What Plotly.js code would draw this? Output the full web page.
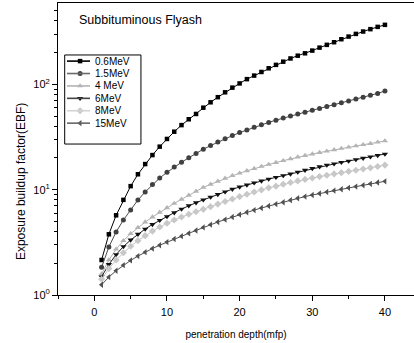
<!DOCTYPE html>
<html><head><meta charset="utf-8">
<script src="https://cdn.plot.ly/plotly-3.0.1.min.js"></script>
<style>html,body{margin:0;padding:0;background:#fff;overflow:hidden}</style>
</head><body><div id="chart" style="width:414px;height:343px"></div>
<script>
const depth = [1,2,3,4,5,6,7,8,9,10,11,12,13,14,15,16,17,18,19,20,21,22,23,24,25,26,27,28,29,30,31,32,33,34,35,36,37,38,39,40];

const seriesNames = ["0.6MeV", "1.5MeV", "4 MeV", "6MeV", "8MeV", "15MeV"];

const ebf06 = [2.15,3.77,5.71,8.0,10.8,14.0,17.5,21.3,25.6,30.3,35.5,41.0,46.6,52.3,60.0,67.5,75.5,84.0,93.0,102,112,121,131,142,153,164,176,187,197,209,223,237,251,268,284,301,317,334,351,367];
const ebf15 = [1.83,2.86,3.97,5.15,6.41,7.98,9.51,11.2,12.9,14.6,16.4,18.2,20.1,22.1,24.2,26.2,28.3,30.4,32.6,34.8,36.9,39.1,41.3,43.5,45.7,47.9,50.0,52.2,54.4,56.7,59.0,61.5,64.0,66.7,69.5,72.4,75.5,78.7,82.0,86.5];
const ebf4 = [1.58,2.15,2.72,3.28,3.82,4.37,4.92,5.5,6.1,6.72,7.4,8.1,8.85,9.65,10.5,11.25,12.0,12.8,13.6,14.35,15.1,15.85,16.6,17.35,18.1,18.85,19.6,20.4,21.1,21.8,22.5,23.2,23.9,24.6,25.3,26.0,26.7,27.4,28.2,29.0];
const ebf6 = [1.49,1.95,2.42,2.88,3.33,3.78,4.23,4.68,5.12,5.55,6.05,6.55,7.05,7.52,8.0,8.5,9.0,9.55,10.1,10.6,11.1,11.6,12.1,12.6,13.1,13.6,14.1,14.7,15.3,15.9,16.5,17.1,17.6,18.2,18.7,19.3,19.9,20.5,21.1,21.8];
const ebf8 = [1.41,1.78,2.15,2.52,2.9,3.28,3.66,4.04,4.42,4.8,5.15,5.5,5.84,6.17,6.5,6.9,7.3,7.72,8.15,8.6,9.05,9.5,9.95,10.4,10.8,11.25,11.7,12.1,12.5,12.9,13.3,13.7,14.1,14.5,14.9,15.3,15.7,16.1,16.6,17.1];
const ebf150 = [1.25,1.48,1.7,1.92,2.13,2.34,2.55,2.76,2.97,3.18,3.4,3.62,3.85,4.1,4.38,4.65,4.93,5.2,5.5,5.8,6.1,6.4,6.7,7.0,7.3,7.6,7.95,8.28,8.6,8.9,9.2,9.5,9.8,10.1,10.4,10.7,11.0,11.35,11.7,12.0];

const yTickVals = [1, 10, 100];
const yTickText = ["10<sup>0</sup>", "10<sup>1</sup>", "10<sup>2</sup>"];
const xTickVals = [0, 10, 20, 30, 40];

const allSeries = [ebf06, ebf15, ebf4, ebf6, ebf8, ebf150];
const lineColors = ["#000000", "#4a4a4a", "#b0b0b0", "#1e1e1e", "#c4c4c4", "#4e4e4e"];
const markerColors = ["#000000", "#404040", "#b4b4b4", "#111111", "#c8c8c8", "#505050"];
const legendLineColors = ["#000000", "#6a6a6a", "#b4b4b4", "#444444", "#d4d4d4", "#666666"];
const symbols = ["square", "circle", "triangle-up", "triangle-down", "diamond", "triangle-left"];
const markerSizes = [4.5, 5, 5.5, 5.5, 5.5, 5.5];

const FONT = 'Arial, "Liberation Sans", sans-serif';

const traces = allSeries.map((vals, i) => ({
  x: depth, y: vals, type: 'scatter', mode: 'lines+markers',
  name: seriesNames[i], showlegend: false,
  line: {color: lineColors[i], width: 1},
  marker: {symbol: symbols[i], size: markerSizes[i], color: markerColors[i], line: {width: 0}}
}));

// custom legend (layout positions in paper fractions)
const legX0 = 0.0188, legX1 = 0.233, legY0 = 0.517, legY1 = 0.822;
const itemTop = 0.801, itemStep = 0.0425;
const sampleX0 = 0.0253, sampleX1 = 0.0899, sampleMk = 0.062, textX = 0.098;

const shapes = [{type: 'rect', xref: 'paper', yref: 'paper', x0: legX0, x1: legX1, y0: legY0, y1: legY1,
  line: {color: '#000', width: 1}, fillcolor: 'rgba(0,0,0,0)'}];
const annotations = [];
seriesNames.forEach((n, i) => {
  const yy = itemTop - i * itemStep;
  shapes.push({type: 'line', xref: 'paper', yref: 'paper', x0: sampleX0, x1: sampleX1, y0: yy, y1: yy,
    line: {color: legendLineColors[i], width: 1.6}});
  annotations.push({xref: 'paper', yref: 'paper', x: textX, y: yy, xanchor: 'left', yanchor: 'middle',
    text: n, showarrow: false, font: {family: FONT, size: 10, color: '#000'}});
});
seriesNames.forEach((n, i) => {
  traces.push({x: [sampleMk], y: [itemTop - i * itemStep], xaxis: 'x2', yaxis: 'y2', type: 'scatter', mode: 'markers',
    showlegend: false, hoverinfo: 'skip', cliponaxis: false,
    marker: {symbol: symbols[i], size: markerSizes[i], color: markerColors[i], line: {width: 0}}});
});

annotations.push({xref: 'paper', yref: 'paper', x: 0.054, y: 0.943, xanchor: 'left', yanchor: 'middle',
  text: 'Subbituminous Flyash', showarrow: false, font: {family: FONT, size: 12.5, color: '#000'}});
annotations.push({xref: 'paper', yref: 'paper', x: -0.104, y: 0.39, xanchor: 'center', yanchor: 'middle', textangle: -90,
  text: 'Exposure buildup factor(EBF)', showarrow: false, font: {family: FONT, size: 12, color: '#000'}});

const layout = {
  width: 414, height: 343,
  margin: {l: 58, r: 0, t: 3, b: 48},
  paper_bgcolor: '#fff', plot_bgcolor: '#fff',
  font: {family: FONT, size: 11, color: '#000'},
  showlegend: false,
  xaxis: {
    range: [-5, 44], showgrid: false, zeroline: false,
    showline: true, linecolor: '#000', linewidth: 1, mirror: true,
    ticks: 'outside', ticklen: 5, tickwidth: 1, tickcolor: '#000',
    tickvals: xTickVals, tickfont: {family: FONT, size: 11}, ticklabelstandoff: 2,
    minor: {dtick: 5, ticks: 'outside', ticklen: 3, tickwidth: 1, tickcolor: '#000', showgrid: false},
    title: {text: 'penetration depth(mfp)', font: {family: FONT, size: 10}, standoff: 13}
  },
  yaxis: {
    type: 'log', range: [0, 2.772], showgrid: false, zeroline: false,
    showline: true, linecolor: '#000', linewidth: 1, mirror: false,
    ticks: 'outside', ticklen: 5, tickwidth: 1, tickcolor: '#000',
    tickvals: yTickVals, ticktext: yTickText, tickfont: {family: FONT, size: 11},
    minor: {dtick: 'D1', ticks: 'outside', ticklen: 3, tickwidth: 1, tickcolor: '#000', showgrid: false}
  },
  xaxis2: {overlaying: 'x', range: [0, 1], visible: false, fixedrange: true},
  yaxis2: {overlaying: 'y', range: [0, 1], visible: false, fixedrange: true},
  shapes: shapes,
  annotations: annotations
};

Plotly.newPlot('chart', traces, layout, {displayModeBar: false, staticPlot: true});
</script></body></html>
